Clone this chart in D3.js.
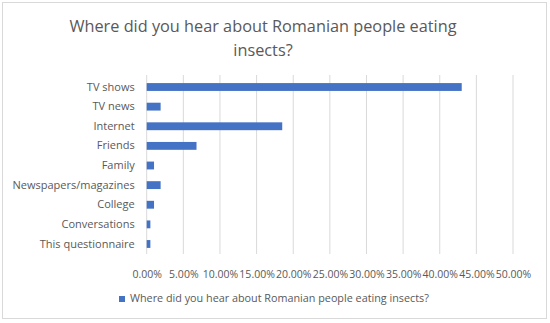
<!DOCTYPE html>
<html><head><meta charset="utf-8">
<script src="https://cdn.jsdelivr.net/npm/d3@7"></script>
<style>body{margin:0;background:#fff}svg{display:block}</style>
</head><body>
<svg id="c" width="550" height="323"></svg>
<script>
const categories = ["TV shows","TV news","Internet","Friends","Family","Newspapers/magazines","College","Conversations","This questionnaire"];
const values = [43.0, 1.9, 18.5, 6.8, 1.0, 1.9, 1.0, 0.5, 0.5];
const ticks = [0,5,10,15,20,25,30,35,40,45,50];
const seriesName = "Where did you hear about Romanian people eating insects?";
const titleLines = ["Where did you hear about Romanian people eating","insects?"];

const svg = d3.select("#c");
const font = "Open Sans, Liberation Sans, sans-serif";
const txt = "#595959";
svg.append("rect").attr("x",2.5).attr("y",2.5).attr("width",544).attr("height",316)
  .attr("fill","#fff").attr("stroke","#d9d9d9");

const x = d3.scaleLinear().domain([0,50]).range([146.7,513]);
const y = d3.scaleBand().domain(categories).range([77.2,253.8]).paddingInner(0.6).paddingOuter(0.3);

svg.append("g").selectAll("line").data(ticks).join("line")
  .attr("x1",d=>x(d)).attr("x2",d=>x(d)).attr("y1",75).attr("y2",254)
  .attr("stroke","#d9d9d9").attr("stroke-width",1);

svg.append("g").selectAll("rect").data(values).join("rect")
  .attr("x",x(0)).attr("y",(d,i)=>y(categories[i]))
  .attr("width",d=>x(d)-x(0)).attr("height",y.bandwidth())
  .attr("fill","#4472c4");

const ay = d3.axisLeft(y).tickSize(0).tickPadding(12);
const gy = svg.append("g").attr("transform",`translate(${x(0)},0)`).call(ay);
gy.select(".domain").remove();
gy.selectAll("text").attr("font-family",font).attr("font-size",11).attr("fill",txt);

const ax = d3.axisBottom(x).tickValues(ticks).tickSize(0).tickPadding(12).tickFormat(d=>d.toFixed(2)+"%");
const gx = svg.append("g").attr("transform","translate(0,258.5)").call(ax);
gx.select(".domain").remove();
gx.selectAll("text").attr("font-family",font).attr("font-size",10.5).attr("fill",txt);

svg.append("g").selectAll("text").data(titleLines).join("text")
  .attr("x",263).attr("y",(d,i)=>32+i*24).attr("text-anchor","middle")
  .attr("font-family",font).attr("font-size",16.3).attr("fill",txt).text(d=>d);

svg.append("rect").attr("x",119).attr("y",296).attr("width",6).attr("height",6).attr("fill","#4472c4");
svg.append("text").attr("x",130).attr("y",302).attr("font-family",font).attr("font-size",10.8)
  .attr("fill",txt).text(seriesName);
</script>
</body></html>
